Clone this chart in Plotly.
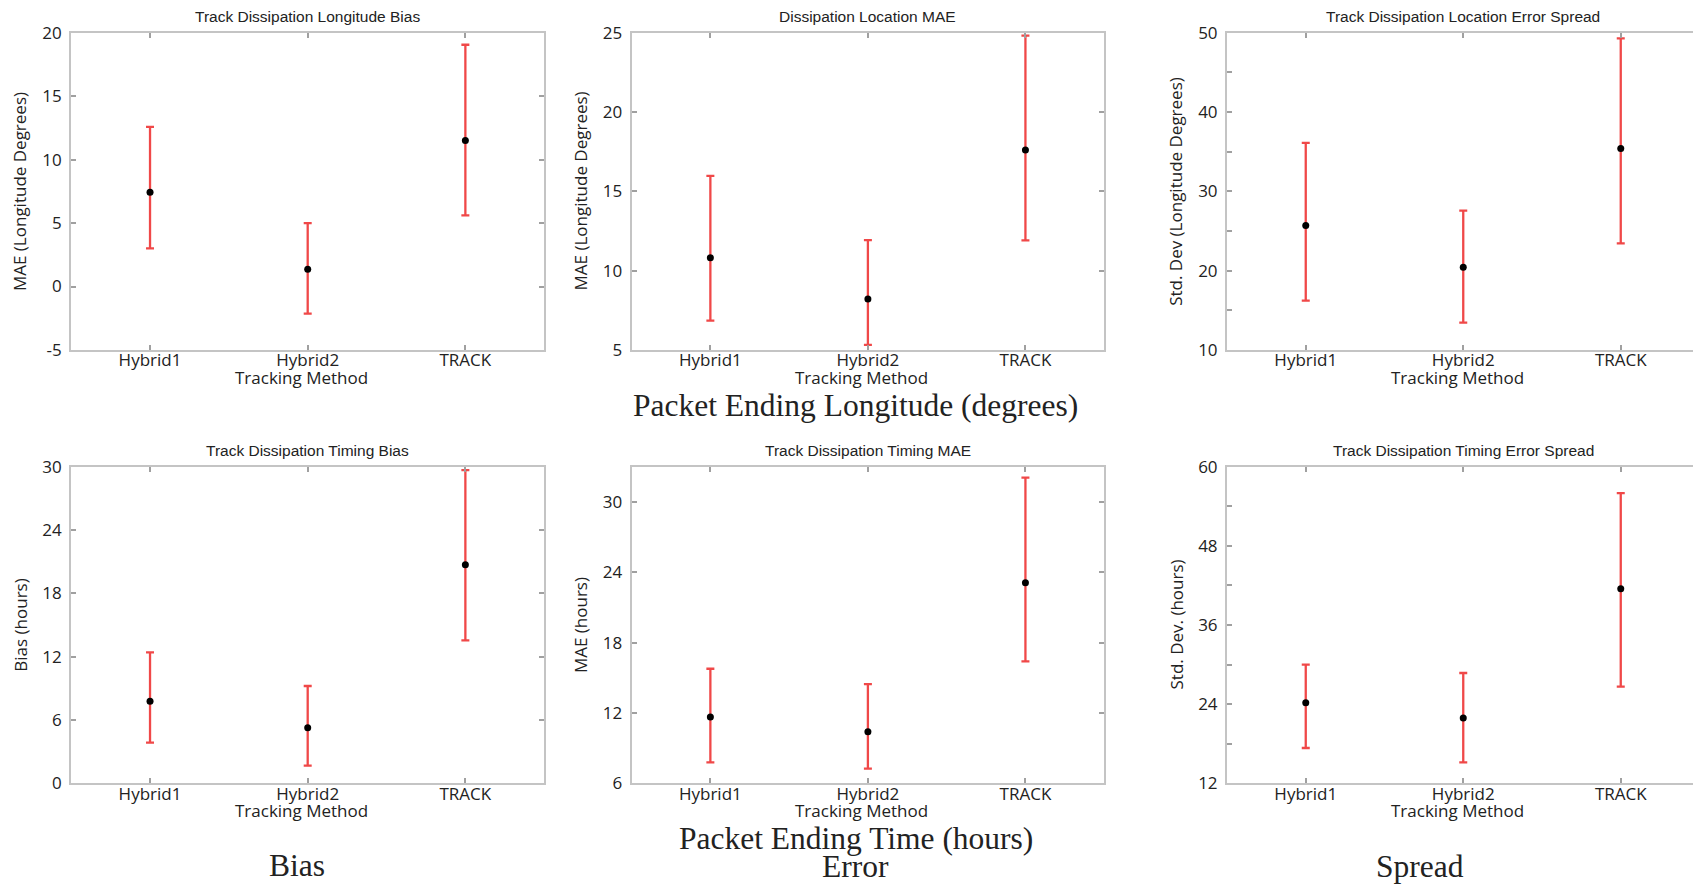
import plotly.graph_objects as go

categories = ["Hybrid1", "Hybrid2", "TRACK"]

# Panel 1: Track Dissipation Longitude Bias
lon_bias_mean = [7.42, 1.37, 11.5]
lon_bias_upper = [12.58, 5.0, 19.05]
lon_bias_lower = [3.0, -2.13, 5.6]

# Panel 2: Dissipation Location MAE
lon_mae_mean = [10.81, 8.22, 17.61]
lon_mae_upper = [15.97, 11.93, 24.81]
lon_mae_lower = [6.85, 5.32, 11.91]

# Panel 3: Track Dissipation Location Error Spread
lon_sd_mean = [25.71, 20.44, 35.39]
lon_sd_upper = [36.1, 27.56, 49.28]
lon_sd_lower = [16.23, 13.45, 23.43]

# Panel 4: Track Dissipation Timing Bias
time_bias_mean = [7.77, 5.27, 20.72]
time_bias_upper = [12.41, 9.22, 29.68]
time_bias_lower = [3.85, 1.67, 13.55]

# Panel 5: Track Dissipation Timing MAE
time_mae_mean = [11.65, 10.4, 23.1]
time_mae_upper = [15.77, 14.46, 32.07]
time_mae_lower = [7.79, 7.25, 16.4]

# Panel 6: Track Dissipation Timing Error Spread
time_sd_mean = [24.23, 21.9, 41.51]
time_sd_upper = [29.99, 28.72, 56.0]
time_sd_lower = [17.35, 15.18, 26.65]

titles = ["Track Dissipation Longitude Bias", "Dissipation Location MAE",
          "Track Dissipation Location Error Spread", "Track Dissipation Timing Bias",
          "Track Dissipation Timing MAE", "Track Dissipation Timing Error Spread"]
y_titles = ["MAE (Longitude Degrees)", "MAE (Longitude Degrees)",
            "Std. Dev (Longitude Degrees)", "Bias (hours)", "MAE (hours)",
            "Std. Dev. (hours)"]
x_title = "Tracking Method"
y_ranges = [[-5, 20], [5, 25], [10, 50], [0, 30], [6, 33], [12, 60]]
y_tickvals = [[-5, 0, 5, 10, 15, 20], [5, 10, 15, 20, 25],
              [10, 15, 20, 25, 30, 35, 40, 45, 50], [0, 6, 12, 18, 24, 30],
              [6, 12, 18, 24, 30], [12, 18, 24, 30, 36, 42, 48, 54, 60]]
y_ticktext = [["-5", "0", "5", "10", "15", "20"], ["5", "10", "15", "20", "25"],
              ["10", "", "20", "", "30", "", "40", "", "50"],
              ["0", "6", "12", "18", "24", "30"], ["6", "12", "18", "24", "30"],
              ["12", "", "24", "", "36", "", "48", "", "60"]]

series = [
    (lon_bias_mean, lon_bias_upper, lon_bias_lower),
    (lon_mae_mean, lon_mae_upper, lon_mae_lower),
    (lon_sd_mean, lon_sd_upper, lon_sd_lower),
    (time_bias_mean, time_bias_upper, time_bias_lower),
    (time_mae_mean, time_mae_upper, time_mae_lower),
    (time_sd_mean, time_sd_upper, time_sd_lower),
]

W, H = 1701, 886
OFF = 8  # page body margin offset


def px_x(px):
    return (px - OFF) / W


def px_y(py):
    return 1 - (py - OFF) / H


x_px = [(71.2, 544.2), (631.6, 1104.2), (1227.0, 1699.5)]
y_px = [(32.7, 350.0), (466.7, 783.3)]

fig = go.Figure()
TICKFONT = dict(family="Open Sans", size=17, color="#222222")
BOXCOL = "#c4c4c4"

annotations = []
for i, (mean, up, lo) in enumerate(series):
    r, c = divmod(i, 3)
    n = i + 1
    xa = "x" if n == 1 else f"x{n}"
    ya = "y" if n == 1 else f"y{n}"
    fig.add_trace(go.Scatter(
        x=categories, y=mean, xaxis=xa, yaxis=ya, mode="markers",
        marker=dict(color="black", size=7),
        error_y=dict(type="data", symmetric=False,
                     array=[u - m for u, m in zip(up, mean)],
                     arrayminus=[m - l for m, l in zip(mean, lo)],
                     color="#f04848", thickness=2.3, width=4),
        showlegend=False, cliponaxis=False))
    x0, x1 = x_px[c]
    y0, y1 = y_px[r]
    xdom = [px_x(x0), min(px_x(x1), 1.0)]
    ydom = [px_y(y1), px_y(y0)]
    xkey = "xaxis" if n == 1 else f"xaxis{n}"
    ykey = "yaxis" if n == 1 else f"yaxis{n}"
    fig.layout[xkey] = dict(
        domain=xdom, anchor=ya, type="category", range=[-0.5, 2.5],
        showline=True, linecolor=BOXCOL, linewidth=2, mirror="ticks",
        ticks="inside", ticklen=5, tickcolor="#a0a0a0", tickwidth=1.5,
        ticklabelstandoff=-6, automargin=False,
        showgrid=False, zeroline=False, tickfont=TICKFONT, fixedrange=True)
    fig.layout[ykey] = dict(
        domain=ydom, anchor=xa, range=y_ranges[i],
        tickvals=y_tickvals[i], ticktext=y_ticktext[i],
        showline=True, linecolor=BOXCOL, linewidth=2, mirror="ticks",
        ticks="inside", ticklen=5, tickcolor="#a0a0a0", tickwidth=1.5,
        ticklabelstandoff=4, automargin=False,
        showgrid=False, zeroline=False, tickfont=TICKFONT, fixedrange=True)
    cx = (x0 + x1) / 2
    annotations.append(dict(text=titles[i], x=px_x(cx), y=px_y(y0 - 16),
                            xref="paper", yref="paper", showarrow=False,
                            xanchor="center", yanchor="middle",
                            font=dict(family="Liberation Sans", size=15.5, color="#222222")))
    annotations.append(dict(text=x_title, x=px_x(cx - 6), y=px_y(y1 + 27.3),
                            xref="paper", yref="paper", showarrow=False,
                            xanchor="center", yanchor="middle",
                            font=TICKFONT))
    annotations.append(dict(text=y_titles[i], x=px_x(x0 - 51.5), y=px_y((y0 + y1) / 2),
                            xref="paper", yref="paper", showarrow=False, textangle=-90,
                            xanchor="center", yanchor="middle",
                            font=TICKFONT))

SERIF = dict(family="Liberation Serif", size=31.5, color="#222222")
for text, px, py in [("Packet Ending Longitude (degrees)", 855.5, 405),
                     ("Packet Ending Time (hours)", 855.5, 838.3),
                     ("Error", 855.5, 866.7),
                     ("Bias", 297.3, 865),
                     ("Spread", 1420, 866.7)]:
    annotations.append(dict(text=text, x=px_x(px), y=px_y(py), xref="paper", yref="paper",
                            showarrow=False, xanchor="center", yanchor="middle", font=SERIF))

fig.update_layout(width=W, height=H,
                  margin=dict(l=0, r=0, t=0, b=0, pad=0, autoexpand=False),
                  paper_bgcolor="white", plot_bgcolor="white", showlegend=False,
                  annotations=annotations)
fig.write_html("out.html")
